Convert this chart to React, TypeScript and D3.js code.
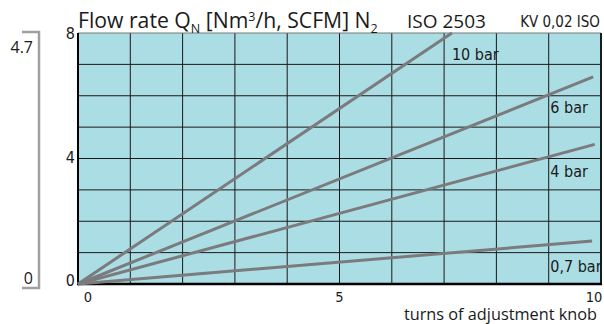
import React from "react";
import * as d3 from "d3";

const xTicks = [0, 5, 10];
const yTicks = [0, 4, 8];
const xGrid = [1, 2, 3, 4, 5, 6, 7, 8, 9];
const yGrid = [1, 2, 3, 4, 5, 6, 7];
const seriesNames = ["10 bar", "6 bar", "4 bar", "0,7 bar"];
const seriesTurns = [
  [0, 7.15],
  [0, 9.85],
  [0, 9.88],
  [0, 9.83],
];
const seriesFlow = [
  [0, 8],
  [0, 6.6],
  [0, 4.45],
  [0, 1.37],
];
const labelTurns = [7.15, 9.03, 9.03, 9.03];
const labelFlow = [7.14, 5.46, 3.42, 0.39];
const scfmTicks = ["0", "4.7"];

const W = 604;
const H = 324;
const condensed = "'Liberation Sans Narrow', 'DejaVu Sans Condensed', Roboto, sans-serif";
const sans = "'Open Sans', 'Noto Sans', sans-serif";

export default function App() {
  const x = d3.scaleLinear().domain([0, 10]).range([78, 601]);
  const y = d3.scaleLinear().domain([0, 8]).range([284, 33]);
  const line = d3
    .line<[number, number]>()
    .x((d) => x(d[0]))
    .y((d) => y(d[1]));

  return (
    <svg
      width={W}
      height={H}
      style={{ position: "absolute", left: 0, top: 0 }}
      xmlns="http://www.w3.org/2000/svg"
    >
      <rect x={0} y={0} width={W} height={H} fill="#ffffff" />
      {/* plot background */}
      <rect x={x(0)} y={y(8)} width={x(10) - x(0)} height={y(0) - y(8)} fill="#abdde4" />
      {/* grid */}
      {xGrid.map((t) => (
        <line key={"vx" + t} x1={x(t)} x2={x(t)} y1={y(8)} y2={y(0)} stroke="#1a1a1a" strokeWidth={1} />
      ))}
      {yGrid.map((t) => (
        <line key={"hy" + t} x1={x(0)} x2={x(10)} y1={y(t)} y2={y(t)} stroke="#1a1a1a" strokeWidth={1} />
      ))}
      {/* frame */}
      <line x1={x(0)} x2={x(10)} y1={y(8)} y2={y(8)} stroke="#777" strokeWidth={1} />
      <line x1={x(10)} x2={x(10)} y1={y(8)} y2={y(0)} stroke="#1a1a1a" strokeWidth={2} />
      <line x1={x(0)} x2={x(0)} y1={y(8)} y2={y(0) + 1} stroke="#000" strokeWidth={2} />
      <line x1={x(0) - 1} x2={x(10) + 1} y1={y(0)} y2={y(0)} stroke="#000" strokeWidth={2.5} />

      {/* series */}
      {seriesNames.map((n, i) => {
        const pts: [number, number][] = seriesTurns[i].map((t, j) => [t, seriesFlow[i][j]]);
        return (
          <path key={n} d={line(pts) || ""} fill="none" stroke="#7b7b7d" strokeWidth={3} />
        );
      })}
      {seriesNames.map((n, i) => (
        <text
          key={"l" + n}
          x={x(labelTurns[i])}
          y={y(labelFlow[i])}
          fontFamily={condensed}
          fontSize={16}
          fill="#1a1a1a"
        >
          {n}
        </text>
      ))}

      {/* y tick labels */}
      {yTicks.map((t) => (
        <text
          key={"yt" + t}
          x={x(0) - 3}
          y={y(t) + (t === 8 ? 6 : t === 4 ? 4 : 2)}
          textAnchor="end"
          fontFamily={condensed}
          fontSize={16}
          fill="#1a1a1a"
        >
          {t}
        </text>
      ))}
      {/* x tick labels */}
      {xTicks.map((t, i) => (
        <text
          key={"xt" + t}
          x={i === 0 ? x(t) + 10 : i === 2 ? x(t) - 7 : x(t)}
          y={302}
          textAnchor="middle"
          fontFamily={condensed}
          fontSize={14.5}
          fill="#1a1a1a"
        >
          {t}
        </text>
      ))}
      <text x={597} y={320} textAnchor="end" fontFamily={sans} fontSize={16.3} fill="#1a1a1a">
        turns of adjustment knob
      </text>

      {/* SCFM bracket */}
      <path
        d={`M22,${y(8) - 1} H39 V${y(0) + 4} H22`}
        fill="none"
        stroke="#a0a0a0"
        strokeWidth={2.5}
      />
      <text x={33} y={53} textAnchor="end" fontFamily={sans} fontSize={16} fill="#1a1a1a">
        {scfmTicks[1]}
      </text>
      <text x={33} y={284} textAnchor="end" fontFamily={sans} fontSize={16} fill="#1a1a1a">
        {scfmTicks[0]}
      </text>

      {/* title */}
      <text x={78} y={28} fontFamily={sans} fontSize={21.2} fill="#1a1a1a">
        Flow rate Q
        <tspan fontSize={12.5} dy={5}>N</tspan>
        <tspan dy={-5}> [Nm</tspan>
        <tspan fontSize={12.5} dy={-7}>3</tspan>
        <tspan dy={7}>/h, SCFM] N</tspan>
        <tspan fontSize={12.5} dy={5}>2</tspan>
      </text>
      <text x={407} y={28} fontFamily={sans} fontSize={19} fill="#1a1a1a">
        ISO 2503
      </text>
      <text x={600} y={27} textAnchor="end" fontFamily={condensed} fontSize={15} fill="#1a1a1a">
        KV 0,02 ISO
      </text>
    </svg>
  );
}
